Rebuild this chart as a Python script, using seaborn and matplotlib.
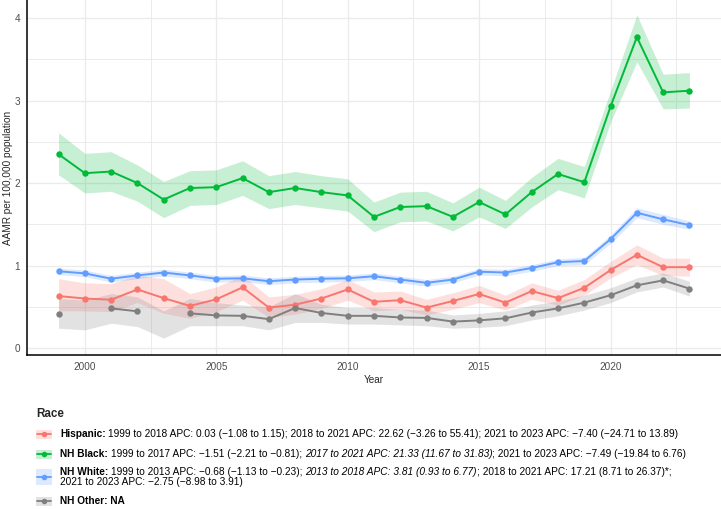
import numpy as np
import pandas as pd
import seaborn as sns
import matplotlib.pyplot as plt
from matplotlib.patches import Rectangle
from matplotlib.lines import Line2D

years = list(range(1999, 2024))
races = ['Hispanic', 'NH Black', 'NH White', 'NH Other']
colors = {'Hispanic': '#F8766D', 'NH Black': '#00BA38',
          'NH White': '#619CFF', 'NH Other': '#7F7F7F'}

hisp = [0.63, 0.60, 0.585, 0.71, 0.605, 0.51, 0.59, 0.735, 0.49, 0.525, 0.60, 0.71, 0.56,
        0.58, 0.49, 0.57, 0.655, 0.55, 0.69, 0.605, 0.73, 0.945, 1.13, 0.98, 0.98]
hisp_lo = [0.45, 0.45, 0.44, 0.55, 0.42, 0.36, 0.44, 0.58, 0.37, 0.41, 0.48, 0.58, 0.45,
           0.47, 0.40, 0.47, 0.55, 0.46, 0.59, 0.52, 0.64, 0.85, 1.01, 0.88, 0.87]
hisp_hi = [0.84, 0.79, 0.78, 0.88, 0.84, 0.66, 0.74, 0.88, 0.62, 0.65, 0.72, 0.83, 0.68,
           0.69, 0.59, 0.67, 0.76, 0.64, 0.79, 0.70, 0.83, 1.05, 1.25, 1.09, 1.09]

black = [2.35, 2.12, 2.14, 2.00, 1.80, 1.94, 1.95, 2.06, 1.89, 1.94, 1.89, 1.85, 1.59,
         1.71, 1.72, 1.59, 1.77, 1.62, 1.89, 2.11, 2.01, 2.93, 3.77, 3.10, 3.12]
black_lo = [2.10, 1.88, 1.90, 1.78, 1.58, 1.73, 1.74, 1.85, 1.69, 1.74, 1.70, 1.66, 1.41,
            1.53, 1.54, 1.42, 1.59, 1.45, 1.71, 1.92, 1.82, 2.74, 3.47, 2.90, 2.91]
black_hi = [2.61, 2.36, 2.38, 2.22, 2.02, 2.15, 2.16, 2.27, 2.09, 2.14, 2.09, 2.05, 1.77,
            1.89, 1.90, 1.76, 1.95, 1.79, 2.07, 2.30, 2.20, 3.12, 4.04, 3.32, 3.34]

white = [0.93, 0.905, 0.84, 0.88, 0.915, 0.88, 0.84, 0.845, 0.81, 0.83, 0.84, 0.845, 0.87,
         0.83, 0.79, 0.83, 0.925, 0.915, 0.97, 1.04, 1.055, 1.32, 1.64, 1.56, 1.49]
white_lo = [0.89, 0.865, 0.80, 0.84, 0.875, 0.84, 0.80, 0.805, 0.77, 0.79, 0.80, 0.805, 0.83,
            0.79, 0.75, 0.79, 0.885, 0.875, 0.93, 1.00, 1.01, 1.27, 1.58, 1.50, 1.44]
white_hi = [0.97, 0.945, 0.88, 0.92, 0.955, 0.92, 0.88, 0.885, 0.85, 0.87, 0.88, 0.885, 0.91,
            0.87, 0.83, 0.87, 0.965, 0.955, 1.01, 1.08, 1.10, 1.37, 1.70, 1.62, 1.54]

other = [0.415, np.nan, 0.48, 0.445, np.nan, 0.42, 0.395, 0.39, 0.35, 0.485, 0.425, 0.39, 0.39,
         0.37, 0.365, 0.32, 0.335, 0.36, 0.43, 0.48, 0.55, 0.64, 0.76, 0.82, 0.72]
other_lo = [0.24, 0.22, 0.30, 0.26, 0.12, 0.27, 0.27, 0.27, 0.22, 0.31, 0.31, 0.29, 0.29,
            0.28, 0.27, 0.24, 0.25, 0.27, 0.34, 0.39, 0.46, 0.55, 0.68, 0.74, 0.63]
other_hi = [0.60, 0.58, 0.66, 0.62, 0.45, 0.60, 0.55, 0.52, 0.50, 0.66, 0.53, 0.49, 0.49,
            0.47, 0.46, 0.40, 0.42, 0.45, 0.52, 0.57, 0.64, 0.73, 0.85, 0.91, 0.81]

legend_runs = {
    'Hispanic': [[('Hispanic:', 'bold', 'normal'),
                  (' 1999 to 2018 APC: 0.03 (\u22121.08 to 1.15); 2018 to 2021 APC: 22.62 (\u22123.26 to 55.41); '
                   '2021 to 2023 APC: \u22127.40 (\u221224.71 to 13.89)', 'normal', 'normal')]],
    'NH Black': [[('NH Black:', 'bold', 'normal'),
                  (' 1999 to 2017 APC: \u22121.51 (\u22122.21 to \u22120.81);', 'normal', 'normal'),
                  (' 2017 to 2021 APC: 21.33 (11.67 to 31.83)', 'normal', 'italic'),
                  ('; 2021 to 2023 APC: \u22127.49 (\u221219.84 to 6.76)', 'normal', 'normal')]],
    'NH White': [[('NH White:', 'bold', 'normal'),
                  (' 1999 to 2013 APC: \u22120.68 (\u22121.13 to \u22120.23);', 'normal', 'normal'),
                  (' 2013 to 2018 APC: 3.81 (0.93 to 6.77)', 'normal', 'italic'),
                  ('; 2018 to 2021 APC: 17.21 (8.71 to 26.37)*;', 'normal', 'normal')],
                 [('2021 to 2023 APC: \u22122.75 (\u22128.98 to 3.91)', 'normal', 'normal')]],
    'NH Other': [[('NH Other: NA', 'bold', 'normal')]],
}

frames = []
for race, v, lo, hi in [('Hispanic', hisp, hisp_lo, hisp_hi),
                        ('NH Black', black, black_lo, black_hi),
                        ('NH White', white, white_lo, white_hi),
                        ('NH Other', other, other_lo, other_hi)]:
    frames.append(pd.DataFrame({'Year': years, 'AAMR': v, 'lo': lo, 'hi': hi, 'Race': race}))
df = pd.concat(frames, ignore_index=True)
df['seg'] = df.groupby('Race')['AAMR'].transform(lambda s: s.isna().cumsum())

sns.set_style('white')
plt.rcParams['font.family'] = ['Liberation Sans', 'DejaVu Sans']

W, H = 721, 509
fig = plt.figure(figsize=(W / 100, H / 100), dpi=100)
ax = fig.add_axes([27 / W, 154 / H, 694 / W, 355 / H])

for race in races:
    g = df[df['Race'] == race]
    ax.fill_between(g['Year'], g['lo'], g['hi'], color=colors[race], alpha=0.22, lw=0, zorder=2)

sns.lineplot(data=df.dropna(subset=['AAMR']), x='Year', y='AAMR', hue='Race', units='seg',
             estimator=None, palette=colors, hue_order=races, marker='o', markersize=4.6,
             markeredgewidth=0, linewidth=1.4, legend=False, ax=ax, zorder=3)

ax.set_xlim(1997.8, 2024.2)
ax.set_ylim(-0.085, 4.22)
ax.set_xticks([2000, 2005, 2010, 2015, 2020])
ax.set_xticks([2002.5, 2007.5, 2012.5, 2017.5, 2022.5], minor=True)
ax.set_yticks([0, 1, 2, 3, 4])
ax.set_yticks([0.5, 1.5, 2.5, 3.5], minor=True)
ax.grid(which='major', color='#ebebeb', lw=1.0)
ax.grid(which='minor', color='#ebebeb', lw=0.7)
ax.set_axisbelow(True)
ax.tick_params(which='both', length=0, labelsize=7.2, labelcolor='#4d4d4d')
ax.tick_params(axis='y', pad=5)
ax.tick_params(axis='x', pad=5)
for s in ['top', 'right']:
    ax.spines[s].set_visible(False)
for s in ['left', 'bottom']:
    ax.spines[s].set_color('black')
    ax.spines[s].set_linewidth(1.1)
ax.set_xlabel('Year', fontsize=7.2, labelpad=2)
ax.yaxis.set_label_coords(-14 / 694, 0.5)
ax.set_ylabel('AAMR per 100,000 population', fontsize=7.2)

# legend below the plot, drawn by hand for mixed bold/italic text
renderer = fig.canvas.get_renderer()
fs = 7.27
probe = fig.text(0, 0, 'a a', fontsize=fs)
probe2 = fig.text(0, 0, 'aa', fontsize=fs)
space_w = probe.get_window_extent(renderer).width - probe2.get_window_extent(renderer).width
probe.remove()
probe2.remove()


def draw_runs(x, y, runs):
    for text, weight, style in runs:
        if text.startswith(' '):
            x += space_w
        t = fig.text(x / W, 1 - y / H, text.strip(), fontsize=fs, fontweight=weight,
                     fontstyle=style, va='center', ha='left', color='black')
        x += t.get_window_extent(renderer).width
        if text.endswith(' '):
            x += space_w


fig.text(36 / W, 1 - 414 / H, 'Race', fontsize=8.4, fontweight='bold', va='center', ha='left')
key_y = {'Hispanic': 434, 'NH Black': 454, 'NH White': 477, 'NH Other': 501}
key_h = {'Hispanic': 9, 'NH Black': 9, 'NH White': 16, 'NH Other': 9}
text_y = {'Hispanic': [434], 'NH Black': [454], 'NH White': [472, 482], 'NH Other': [501]}
for race in races:
    yc = key_y[race]
    fig.add_artist(Rectangle((36 / W, 1 - (yc + key_h[race] / 2) / H), 16 / W, key_h[race] / H,
                             transform=fig.transFigure, facecolor=colors[race], alpha=0.22, lw=0))
    fig.add_artist(Line2D([37 / W, 51 / W], [1 - yc / H, 1 - yc / H], transform=fig.transFigure,
                          color=colors[race], lw=1.3, marker=None))
    fig.add_artist(Line2D([44 / W], [1 - yc / H], transform=fig.transFigure,
                          color=colors[race], marker='o', markersize=4, markeredgewidth=0))
    for line, ty in zip(legend_runs[race], text_y[race]):
        draw_runs(60, ty, line)

fig.savefig('out.png', dpi=100)
